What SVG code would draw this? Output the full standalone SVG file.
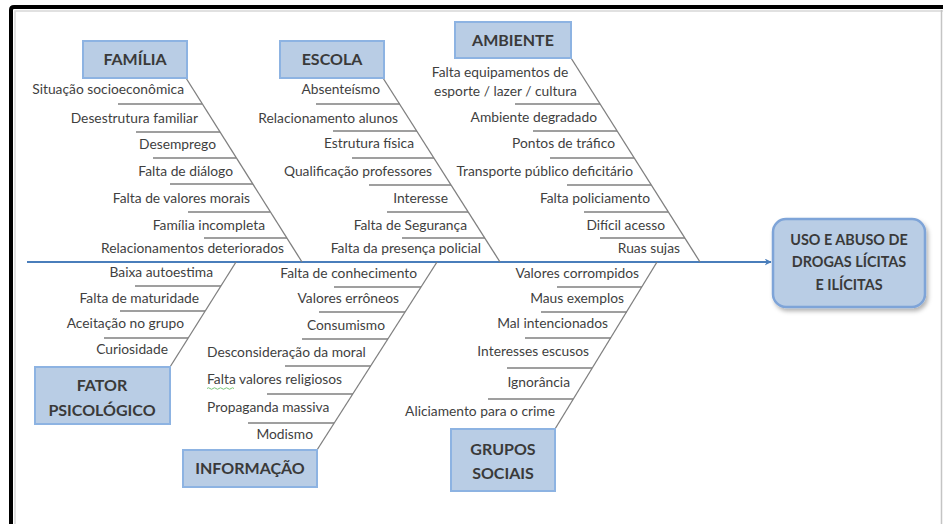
<svg xmlns="http://www.w3.org/2000/svg" width="943" height="524" viewBox="0 0 943 524">
<defs>
<style>
.lbl{font-family:Lato,"Liberation Sans",sans-serif;font-size:13.8px;fill:#3f3f3f}
.e{text-anchor:end}
.m{text-anchor:middle}
.hd{font-family:Lato,"Liberation Sans",sans-serif;font-size:16px;font-weight:bold;fill:#3a3a3a;text-anchor:middle}
.box{fill:#b9cde5;stroke:#8db3e2;stroke-width:2}
.bone{stroke:#7f7f7f;stroke-width:1.3;fill:none}
.spine{stroke:#4a7ebb;stroke-width:2;fill:none}
</style>
<marker id="arr" viewBox="0 0 10 10" refX="9" refY="5" markerWidth="7" markerHeight="7" markerUnits="userSpaceOnUse" orient="auto">
<path d="M0,0 L10,5 L0,10 L3,5 Z" fill="#4a7ebb"/>
</marker>
<filter id="sh" x="-10%" y="-10%" width="125%" height="130%">
<feDropShadow dx="2" dy="3" stdDeviation="2" flood-color="#000" flood-opacity="0.3"/>
</filter>
</defs>
<rect width="943" height="524" fill="#fff"/>
<!-- frame -->
<path d="M11,524 V10 Q11,7 14,7 H943" fill="none" stroke="#000" stroke-width="4"/>
<path d="M15,524 V11 H943" fill="none" stroke="#d8d8d8" stroke-width="1.5"/>
<line x1="941.5" y1="10" x2="941.5" y2="524" stroke="#c4c4c4" stroke-width="1.5"/>

<g id="connectors">
<line class="spine" x1="27" y1="262" x2="771" y2="262" marker-end="url(#arr)"/>
<!-- Familia -->
<line class="bone" x1="186" y1="78" x2="302" y2="262"/>
<line class="bone" x1="118" y1="104" x2="202" y2="104"/>
<line class="bone" x1="136" y1="132" x2="220" y2="132"/>
<line class="bone" x1="153" y1="158" x2="236" y2="158"/>
<line class="bone" x1="170" y1="184" x2="253" y2="184"/>
<line class="bone" x1="188" y1="212" x2="270" y2="212"/>
<line class="bone" x1="204" y1="238" x2="287" y2="238"/>
<!-- Escola -->
<line class="bone" x1="383" y1="78" x2="500" y2="262"/>
<line class="bone" x1="316" y1="104" x2="400" y2="104"/>
<line class="bone" x1="333" y1="131" x2="417" y2="131"/>
<line class="bone" x1="352" y1="158" x2="434" y2="158"/>
<line class="bone" x1="369" y1="185" x2="451" y2="185"/>
<line class="bone" x1="387" y1="212" x2="468" y2="212"/>
<line class="bone" x1="402" y1="238" x2="485" y2="238"/>
<!-- Ambiente -->
<line class="bone" x1="571" y1="58" x2="700" y2="262"/>
<line class="bone" x1="515" y1="104" x2="600" y2="104"/>
<line class="bone" x1="533" y1="131" x2="617" y2="131"/>
<line class="bone" x1="550" y1="158" x2="634" y2="158"/>
<line class="bone" x1="567" y1="185" x2="651" y2="185"/>
<line class="bone" x1="584" y1="212" x2="668" y2="212"/>
<line class="bone" x1="600" y1="238" x2="685" y2="238"/>
<!-- Fator psicologico -->
<line class="bone" x1="170" y1="367" x2="236" y2="262"/>
<line class="bone" x1="135" y1="286" x2="221" y2="286"/>
<line class="bone" x1="120" y1="311" x2="205" y2="311"/>
<line class="bone" x1="104" y1="338" x2="188" y2="338"/>
<!-- Informacao -->
<line class="bone" x1="317" y1="450" x2="437" y2="262"/>
<line class="bone" x1="334" y1="287" x2="421" y2="287"/>
<line class="bone" x1="319" y1="312" x2="405" y2="312"/>
<line class="bone" x1="302" y1="339" x2="388" y2="339"/>
<line class="bone" x1="285" y1="366" x2="371" y2="366"/>
<line class="bone" x1="267" y1="394" x2="353" y2="394"/>
<line class="bone" x1="248" y1="423" x2="334" y2="423"/>
<!-- Grupos sociais -->
<line class="bone" x1="555" y1="429" x2="657" y2="262"/>
<line class="bone" x1="557" y1="287" x2="642" y2="287"/>
<line class="bone" x1="541" y1="312" x2="627" y2="312"/>
<line class="bone" x1="525" y1="338" x2="611" y2="338"/>
<line class="bone" x1="507" y1="368" x2="592" y2="368"/>
<line class="bone" x1="488" y1="399" x2="573" y2="399"/>
</g>

<g id="familia">
<rect class="box" x="83" y="41" width="104" height="37"/>
<text class="hd" x="135" y="65">FAMÍLIA</text>
<text class="lbl e" x="184" y="93.5">Situação socioeconômica</text>
<text class="lbl e" x="198" y="122.5">Desestrutura familiar</text>
<text class="lbl e" x="216" y="148.5">Desemprego</text>
<text class="lbl e" x="233" y="175.5">Falta de diálogo</text>
<text class="lbl e" x="250" y="202.5">Falta de valores morais</text>
<text class="lbl e" x="265" y="229.5">Família incompleta</text>
<text class="lbl e" x="284" y="252.5">Relacionamentos deteriorados</text>
</g>

<g id="escola">
<rect class="box" x="280" y="41" width="104" height="37"/>
<text class="hd" x="332" y="65">ESCOLA</text>
<text class="lbl e" x="380" y="93.5">Absenteísmo</text>
<text class="lbl e" x="398" y="122.5">Relacionamento alunos</text>
<text class="lbl e" x="414" y="147.5">Estrutura física</text>
<text class="lbl e" x="432" y="175.5">Qualificação professores</text>
<text class="lbl e" x="448" y="202.5">Interesse</text>
<text class="lbl e" x="467" y="229.5">Falta de Segurança</text>
<text class="lbl e" x="481" y="252.5">Falta da presença policial</text>
</g>

<g id="ambiente">
<rect class="box" x="455" y="22" width="116" height="36"/>
<text class="hd" x="513" y="45.5">AMBIENTE</text>
<text class="lbl m" x="500" y="76.5">Falta equipamentos de</text>
<text class="lbl m" x="505.5" y="95.5">esporte / lazer / cultura</text>
<text class="lbl e" x="597" y="121.5">Ambiente degradado</text>
<text class="lbl e" x="615" y="147.5">Pontos de tráfico</text>
<text class="lbl e" x="633" y="175.5">Transporte público deficitário</text>
<text class="lbl e" x="650" y="202.5">Falta policiamento</text>
<text class="lbl e" x="665" y="229.5">Difícil acesso</text>
<text class="lbl e" x="680" y="252.5">Ruas sujas</text>
</g>

<g id="fator-psicologico">
<rect class="box" x="35" y="367" width="135" height="57"/>
<text class="hd" x="102" y="390.5">FATOR</text>
<text class="hd" x="102" y="415.5">PSICOLÓGICO</text>
<text class="lbl e" x="213" y="276.5">Baixa autoestima</text>
<text class="lbl e" x="199" y="302.5">Falta de maturidade</text>
<text class="lbl e" x="184" y="327.5">Aceitação no grupo</text>
<text class="lbl e" x="168" y="353.5">Curiosidade</text>
</g>

<g id="informacao">
<rect class="box" x="183" y="450" width="134" height="37"/>
<text class="hd" x="250" y="474">INFORMAÇÃO</text>
<text class="lbl e" x="417" y="277.5">Falta de conhecimento</text>
<text class="lbl e" x="399" y="302.5">Valores errôneos</text>
<text class="lbl e" x="385" y="329.5">Consumismo</text>
<text class="lbl" x="207" y="356.5">Desconsideração da moral</text>
<text class="lbl" x="207" y="383.5">Falta valores religiosos</text>
<path d="M207,388.5 q1.5,-1.5 3,0 t3,0 t3,0 t3,0 t3,0 t3,0 t3,0 t3,0 t3,0" fill="none" stroke="#6cbf6c" stroke-width="0.9"/>
<text class="lbl" x="207" y="411.5">Propaganda massiva</text>
<text class="lbl e" x="313" y="438.5">Modismo</text>
</g>

<g id="grupos-sociais">
<rect class="box" x="451" y="429" width="104" height="62"/>
<text class="hd" x="503" y="454.5">GRUPOS</text>
<text class="hd" x="503" y="478.5">SOCIAIS</text>
<text class="lbl e" x="639" y="277.5">Valores corrompidos</text>
<text class="lbl e" x="624" y="302.5">Maus exemplos</text>
<text class="lbl e" x="608" y="327.5">Mal intencionados</text>
<text class="lbl e" x="589" y="355.5">Interesses escusos</text>
<text class="lbl e" x="570" y="386.5">Ignorância</text>
<text class="lbl e" x="555" y="415.5">Aliciamento para o crime</text>
</g>

<g id="efeito">
<rect x="773" y="219" width="152" height="88" rx="13" fill="#b9cde5" stroke="#7ea4d8" stroke-width="2.5" filter="url(#sh)"/>
<text class="hd" x="849" y="244.5" style="font-size:14.4px">USO E ABUSO DE</text>
<text class="hd" x="849" y="267" style="font-size:14.4px">DROGAS LÍCITAS</text>
<text class="hd" x="849" y="289.5" style="font-size:14.4px">E ILÍCITAS</text>
</g>
</svg>
